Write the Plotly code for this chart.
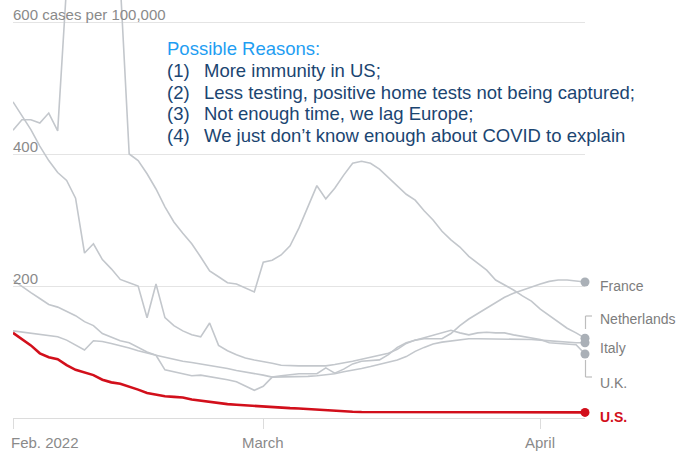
import pandas as pd
import plotly.graph_objects as go

# ---------------- data (cases per 100,000, daily, Feb 1 - Apr 6, 2022) ----------------
dates = pd.date_range("2022-02-01", periods=65, freq="D")

us = [129, 120, 110, 98, 92, 89, 80, 73, 69, 65,
      58, 54, 52, 48, 43, 38, 35, 33, 32, 31,
      28, 26, 24, 22, 21, 20, 19, 18, 17.5, 17,
      16, 15, 14.5, 13.5, 12.5, 11.5, 10.5, 10, 9.5, 9,
      9, 8.5, 8.5, 8.5, 8, 8, 8, 8, 8, 8,
      8, 8, 8, 8.5, 8.5, 8.5, 8, 8, 8, 8,
      8, 8, 8, 8.5, 8.5]

france = [479, 458, 437, 412, 390, 372, 360, 333, 250, 264,
          240, 226, 210, 205, 200, 152, 203, 152, 140, 132,
          126, 123, 144, 110, 102, 96, 91, 88, 86, 83,
          80, 79, 79, 79, 79, 79, 81, 83, 86, 89,
          92, 94, 98, 104, 113, 118, 120, 120, 120, 128,
          140, 150, 158, 167, 175, 183, 189, 194, 198, 203,
          207, 209, 209, 208, 206]

netherlands = [436, 452, 452, 447, 462, 435, 656, 700, 730, 740,
               720, 690, 660, 400, 390, 370, 347, 320, 297, 280,
               264, 244, 223, 214, 205, 203, 197, 191, 236, 239,
               247, 261, 288, 320, 352, 332, 348, 368, 386, 389,
               386, 377, 364, 352, 339, 330, 314, 300, 283, 270,
               259, 245, 235, 224, 209, 202, 194, 185, 177, 165,
               155, 145, 136, 129, 121]

italy = [209, 199, 190, 181, 172, 168, 162, 155, 146, 140,
         128, 122, 117, 114, 107, 100, 95, 92, 88, 86,
         84, 82, 79, 77, 75, 72, 70, 68, 65, 62,
         62, 62, 62, 63, 64, 65, 67, 70, 72, 75,
         78, 81, 84, 88, 93, 101, 107, 112, 115, 117,
         119, 120, 120, 120, 120, 120, 120, 120, 119, 118,
         117, 115, 114, 114, 114]

uk = [132, 130, 129, 127, 125, 123, 118, 110, 103, 117,
      116, 113, 110, 106, 102, 99, 95, 73, 70, 67,
      64, 65, 63, 61, 58, 55, 48, 42, 48, 62,
      64, 66, 67, 67, 67, 76, 68, 74, 82, 86,
      87, 88, 96, 107, 114, 118, 122, 126, 130, 133,
      129, 126, 129, 130, 129, 129, 126, 124, 121, 119,
      114, 113, 112, 111, 97]

tick_dates = ["2022-02-01", "2022-03-01", "2022-04-01"]
tick_text = ["Feb. 2022", "March", "April"]
y_grid = [200, 400, 600]
y_grid_text = ["200", "400", "600 cases per 100,000"]

reasons_title = "Possible Reasons:"
reasons_num = ["(1)", "(2)", "(3)", "(4)"]
reasons = ["More immunity in US;",
           "Less testing, positive home tests not being captured;",
           "Not enough time, we lag Europe;",
           "We just don\u2019t know enough about COVID to explain"]

end_labels = ["France", "Netherlands", "Italy", "U.K.", "U.S."]

# ---------------- layout geometry ----------------
W, H = 680, 455
ML, MR, MT, MB = 13, 94.5, 0, 37
PW = W - ML - MR
PH = H - MT - MB
Y_TOP = 633.33

def px_x(x):
    return (x - ML) / PW

def px_y(y):
    return (H - MB - y) / PH

FONT = "Liberation Sans, Arial, Helvetica, sans-serif"
GRAY_LINE = "#c3c7cc"
GRAY_DOT = "#aab0b7"
RED = "#d20f1b"
TEXT_GRAY = "#8a8a8a"

fig = go.Figure()

gray_series = [("France", france), ("Netherlands", netherlands), ("Italy", italy), ("U.K.", uk)]
for name, vals in gray_series:
    fig.add_trace(go.Scatter(x=dates, y=vals, mode="lines", name=name,
                             line=dict(color=GRAY_LINE, width=1.6), hoverinfo="skip"))
fig.add_trace(go.Scatter(x=dates, y=us, mode="lines", name="U.S.",
                         line=dict(color=RED, width=2.6), hoverinfo="skip"))

for name, vals in gray_series:
    fig.add_trace(go.Scatter(x=[dates[-1]], y=[vals[-1]], mode="markers", cliponaxis=False,
                             marker=dict(color=GRAY_DOT, size=9), hoverinfo="skip"))
fig.add_trace(go.Scatter(x=[dates[-1]], y=[us[-1]], mode="markers", cliponaxis=False,
                         marker=dict(color=RED, size=9), hoverinfo="skip"))

annotations = []
# y gridline labels
for v, t in zip(y_grid, y_grid_text):
    annotations.append(dict(xref="paper", yref="y", x=0, y=v, text=t, showarrow=False,
                            xanchor="left", yanchor="middle", xshift=-2, yshift=8,
                            font=dict(family=FONT, size=15, color=TEXT_GRAY)))
# x tick labels
for i, (d, t) in enumerate(zip(tick_dates, tick_text)):
    annotations.append(dict(xref="x", yref="paper", x=d, y=px_y(443), text=t, showarrow=False,
                            xanchor="left" if i == 0 else "center", yanchor="middle",
                            xshift=-4 if i == 0 else 0,
                            font=dict(family=FONT, size=15, color=TEXT_GRAY)))
# reasons box
annotations.append(dict(xref="paper", yref="paper", x=px_x(165), y=px_y(48), text=reasons_title,
                        showarrow=False, xanchor="left", yanchor="middle",
                        font=dict(family=FONT, size=18.5, color="#1f9ef2")))
for i, (n, t) in enumerate(zip(reasons_num, reasons)):
    yy = [70, 92, 113.5, 135.5][i]
    annotations.append(dict(xref="paper", yref="paper", x=px_x(165), y=px_y(yy), text=n,
                            showarrow=False, xanchor="left", yanchor="middle",
                            font=dict(family=FONT, size=18.5, color="#1b4571")))
    annotations.append(dict(xref="paper", yref="paper", x=px_x(202), y=px_y(yy), text=t,
                            showarrow=False, xanchor="left", yanchor="middle",
                            font=dict(family=FONT, size=18.5, color="#1b4571")))
# end labels
label_px = [286, 319, 348, 383, 417]
for t, yy in zip(end_labels, label_px):
    is_us = t == "U.S."
    annotations.append(dict(xref="paper", yref="paper", x=px_x(599), y=px_y(yy),
                            text="<b>%s</b>" % t if is_us else t, showarrow=False,
                            xanchor="left", yanchor="middle",
                            font=dict(family=FONT, size=14, color=RED if is_us else "#7d7d7d")))

bracket = dict(color="#bdbdbd", width=1.2)
shapes = [
    dict(type="line", xref="paper", yref="paper", x0=px_x(586), x1=px_x(586), y0=px_y(316), y1=px_y(329), line=bracket),
    dict(type="line", xref="paper", yref="paper", x0=px_x(586), x1=px_x(592.5), y0=px_y(316), y1=px_y(316), line=bracket),
    dict(type="line", xref="paper", yref="paper", x0=px_x(586), x1=px_x(586), y0=px_y(360), y1=px_y(377), line=bracket),
    dict(type="line", xref="paper", yref="paper", x0=px_x(586), x1=px_x(592.5), y0=px_y(377), y1=px_y(377), line=bracket),
]

fig.update_layout(
    width=W, height=H, autosize=False,
    margin=dict(l=ML, r=MR, t=MT, b=MB, pad=0),
    paper_bgcolor="white", plot_bgcolor="white",
    showlegend=False, hovermode=False,
    annotations=annotations, shapes=shapes,
    font=dict(family=FONT),
)
fig.update_xaxes(type="date", range=[dates[0], dates[-1]], showgrid=False, zeroline=False,
                 showline=True, linecolor="#dcdcdc", linewidth=1,
                 ticks="outside", ticklen=10, tickcolor="#dcdcdc", tickwidth=1,
                 tickvals=tick_dates, showticklabels=False, fixedrange=True)
fig.update_yaxes(range=[0, Y_TOP], tickvals=y_grid, showticklabels=False, showgrid=True,
                 gridcolor="#e4e4e4", gridwidth=1, zeroline=False, showline=False,
                 ticks="", fixedrange=True)

# the page's default body margin would offset the 680x455 figure inside the window
fig.write_html("out.html", config={"displayModeBar": False},
               post_script="document.body.style.margin='0px';document.body.style.overflow='hidden';")
